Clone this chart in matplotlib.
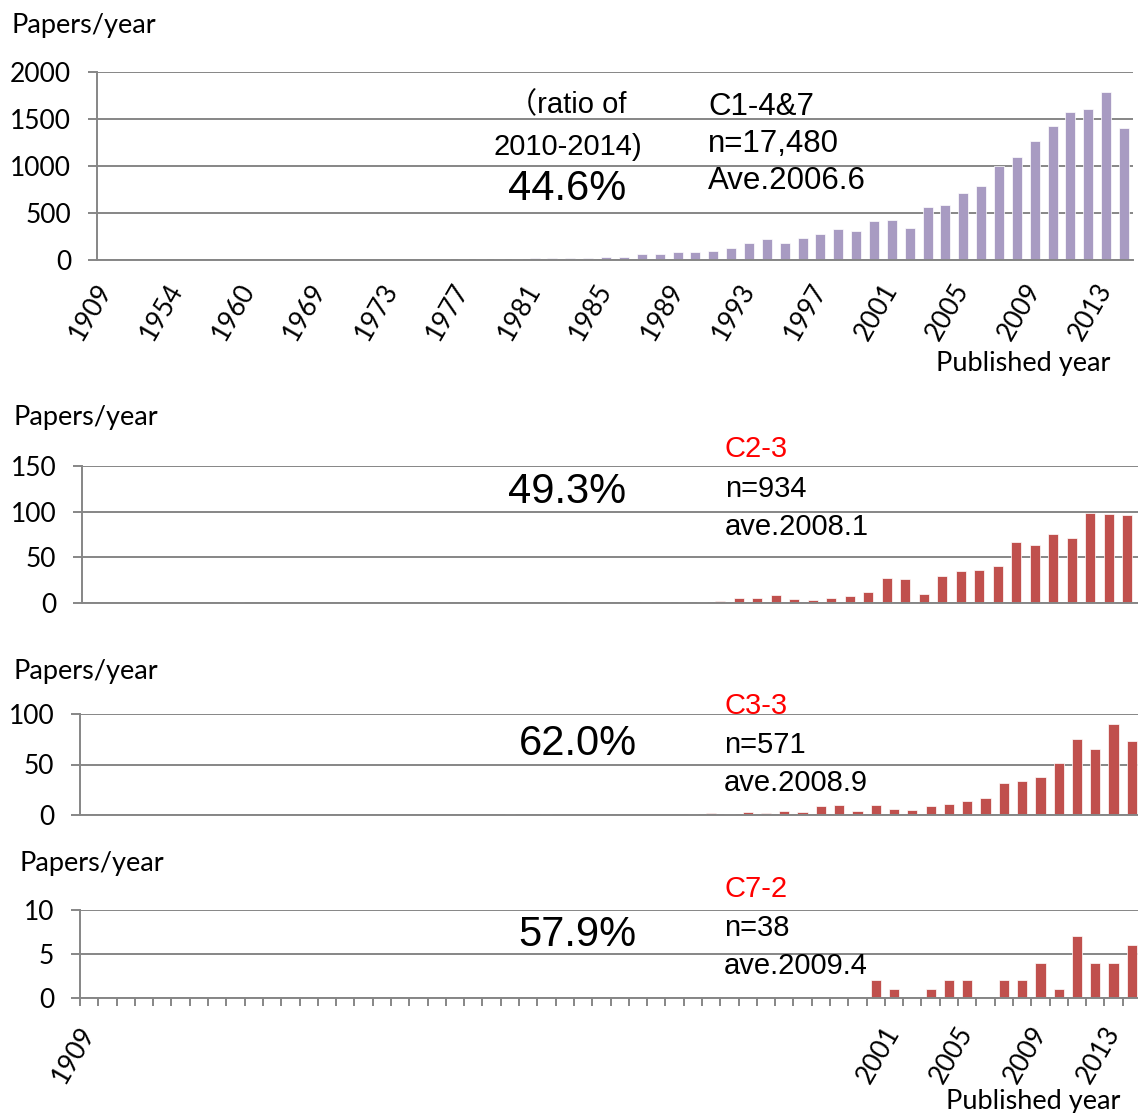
import numpy as np
import matplotlib
matplotlib.use("Agg")
import matplotlib.pyplot as plt

# categories (only some are labelled on the chart)
years = ["1909", "1937", "1948", "1950", "1954", "1955", "1957", "1959",
         "1960", "1962", "1964", "1966"] + [str(y) for y in range(1969, 2015)]

# C1-4&7 (all), papers/year
c1_years = [str(y) for y in range(1969, 2015)]
c1_vals = [3, 1, 3, 2, 2, 3, 5, 7, 8, 9, 15, 14, 16, 18, 22, 25, 30, 35,
           66, 60, 80, 90, 97, 130, 184, 220, 186, 235, 278, 325, 312,
           420, 428, 337, 560, 590, 712, 785, 1005, 1100, 1262,
           1422, 1571, 1610, 1784, 1408]
c1_early = {"1909": 1, "1954": 1, "1960": 1, "1964": 1}

# C2-3
c2_years = ["1960", "1976", "1982", "1983", "1987", "1988", "1989"] + \
    [str(y) for y in range(1990, 2015)]
c2_vals = [1, 1, 1, 1, 1, 1, 1,
           1, 2, 6, 6, 9, 4, 3, 5, 8, 12, 27, 26, 10, 30, 35, 36, 41,
           67, 63, 76, 71, 99, 97, 96, 97]

# C3-3
c3_years = ["1980", "1982"] + [str(y) for y in range(1990, 2015)]
c3_vals = [1, 1,
           1, 2, 1, 3, 2, 4, 3, 9, 10, 4, 10, 6, 5, 9, 11, 14, 17, 32,
           34, 38, 51, 75, 65, 90, 73]

# C7-2
c7_years = [str(y) for y in range(2000, 2015)]
c7_vals = [2, 1, 0, 1, 2, 2, 0, 2, 2, 4, 1, 7, 4, 4, 6]

W, H = 1138, 1113
GRID = "#868686"
PURPLE = "#A89BC2"
RED = "#C0504D"
AX_FONT = "Lato"
NOTE_FONT = ["Liberation Sans", "Noto Sans CJK JP", "DejaVu Sans"]
TICK_SIZE = 19
LABEL_SIZE = 19.5


def series(names, vals):
    out = np.zeros(len(years))
    for n, v in zip(names, vals):
        out[years.index(n)] = v
    return out


def make_axes(fig, left, right, top, bottom):
    # pixel box -> figure fraction
    return fig.add_axes([left / W, 1 - bottom / H, (right - left) / W, (bottom - top) / H])


def style(ax, ymax, step):
    ax.set_xlim(-0.5, len(years) - 0.5)
    ax.set_ylim(0, ymax)
    ax.set_yticks(np.arange(0, ymax + step / 2, step))
    ax.yaxis.grid(True, color=GRID, lw=1.4)
    ax.set_axisbelow(True)
    for s in ["top", "right"]:
        ax.spines[s].set_visible(False)
    for s in ["left", "bottom"]:
        ax.spines[s].set_color(GRID)
        ax.spines[s].set_linewidth(1.4)
    ax.tick_params(axis="y", length=6.5, width=1.4, color=GRID, pad=12,
                   labelsize=TICK_SIZE)
    for lab in ax.get_yticklabels():
        lab.set_fontfamily(AX_FONT)
    ax.set_xticks([])


def ftext(fig, x, y, s, **kw):
    fig.text(x / W, 1 - y / H, s, **kw)


fig = plt.figure(figsize=(W / 100, H / 100), dpi=100)
x = np.arange(len(years))

# ---- panel 1
ax1 = make_axes(fig, 97, 1133, 72, 260)
v1 = series(c1_years, c1_vals) + series(list(c1_early), list(c1_early.values()))
ax1.bar(x, v1, width=0.56, color=PURPLE, edgecolor="white", linewidth=0.5)
style(ax1, 2000, 500)
ax1.set_xticks(x[::4])
ax1.set_xticklabels(years[::4], rotation=60, ha="right", va="center",
                    rotation_mode="anchor", fontsize=TICK_SIZE, family=AX_FONT)
ax1.tick_params(axis="x", length=0, pad=18)

ftext(fig, 567, 105, "（ratio of", ha="center", va="center", fontsize=21, family=NOTE_FONT)
ftext(fig, 568, 147, "2010-2014)", ha="center", va="center", fontsize=21, family=NOTE_FONT)
ftext(fig, 567, 189, "44.6%", ha="center", va="center", fontsize=30, family=NOTE_FONT)
ftext(fig, 708, 107, "C1-4&7", ha="left", va="center", fontsize=22.5, family=NOTE_FONT)
ftext(fig, 708, 144, "n=17,480", ha="left", va="center", fontsize=22.5, family=NOTE_FONT)
ftext(fig, 708, 181, "Ave.2006.6", ha="left", va="center", fontsize=22.5, family=NOTE_FONT)
ftext(fig, 12, 25, "Papers/year", ha="left", va="center", fontsize=LABEL_SIZE, family=AX_FONT)
ftext(fig, 1023, 363, "Published year", ha="center", va="center", fontsize=LABEL_SIZE, family=AX_FONT)

# ---- panel 2
ax2 = make_axes(fig, 82, 1155, 466, 603)
ax2.bar(x, series(c2_years, c2_vals), width=0.56, color=RED, edgecolor="white", linewidth=0.5)
style(ax2, 150, 50)
ftext(fig, 14, 417, "Papers/year", ha="left", va="center", fontsize=LABEL_SIZE, family=AX_FONT)
ftext(fig, 567, 492, "49.3%", ha="center", va="center", fontsize=30, family=NOTE_FONT)
ftext(fig, 725, 449, "C2-3", ha="left", va="center", fontsize=21, color="red", family=NOTE_FONT)
ftext(fig, 725, 489, "n=934", ha="left", va="center", fontsize=21, family=NOTE_FONT)
ftext(fig, 725, 527, "ave.2008.1", ha="left", va="center", fontsize=21, family=NOTE_FONT)

# ---- panel 3
ax3 = make_axes(fig, 80, 1141, 714, 815)
ax3.bar(x, series(c3_years, c3_vals), width=0.56, color=RED, edgecolor="white", linewidth=0.5)
style(ax3, 100, 50)
ftext(fig, 14, 671, "Papers/year", ha="left", va="center", fontsize=LABEL_SIZE, family=AX_FONT)
ftext(fig, 578, 744, "62.0%", ha="center", va="center", fontsize=30, family=NOTE_FONT)
ftext(fig, 724, 706, "C3-3", ha="left", va="center", fontsize=21, color="red", family=NOTE_FONT)
ftext(fig, 724, 745, "n=571", ha="left", va="center", fontsize=21, family=NOTE_FONT)
ftext(fig, 724, 783, "ave.2008.9", ha="left", va="center", fontsize=21, family=NOTE_FONT)

# ---- panel 4
ax4 = make_axes(fig, 80, 1141, 910, 998)
ax4.bar(x, series(c7_years, c7_vals), width=0.56, color=RED, edgecolor="white", linewidth=0.5)
style(ax4, 10, 5)
shown = ["1909", "2001", "2005", "2009", "2013"]
ax4.set_xticks([years.index(s) for s in shown])
ax4.set_xticklabels(shown, rotation=60, ha="right", va="center",
                    rotation_mode="anchor", fontsize=TICK_SIZE, family=AX_FONT)
ax4.tick_params(axis="x", length=0, pad=22)
ax4.set_xticks(np.arange(-0.5, len(years)), minor=True)
ax4.tick_params(axis="x", which="minor", length=6, width=1.4, color=GRID)
ftext(fig, 20, 864, "Papers/year", ha="left", va="center", fontsize=LABEL_SIZE, family=AX_FONT)
ftext(fig, 577, 935, "57.9%", ha="center", va="center", fontsize=30, family=NOTE_FONT)
ftext(fig, 724, 889, "C7-2", ha="left", va="center", fontsize=21, color="red", family=NOTE_FONT)
ftext(fig, 724, 928, "n=38", ha="left", va="center", fontsize=21, family=NOTE_FONT)
ftext(fig, 724, 966, "ave.2009.4", ha="left", va="center", fontsize=21, family=NOTE_FONT)
ftext(fig, 1033, 1102, "Published year", ha="center", va="center", fontsize=LABEL_SIZE, family=AX_FONT)

fig.savefig("out.png", dpi=100)
